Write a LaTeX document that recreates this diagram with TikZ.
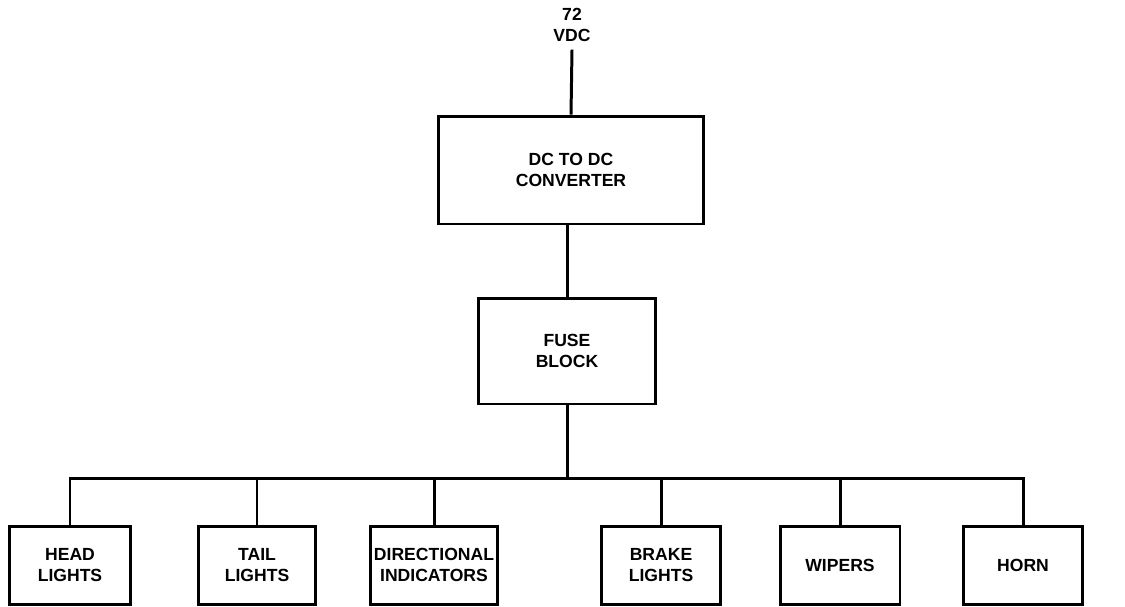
\documentclass[tikz,border=0pt]{standalone}
\usepackage{fontspec}
\setmainfont{Liberation Sans}
\usepackage{tikz}
\usetikzlibrary{positioning}

\begin{document}
\begin{tikzpicture}[
  x=0.02cm, y=-0.02cm,
  bloco/.style={rectangle, draw=black, line width=1.7pt, align=center,
                font=\bfseries\fontsize{10}{11.5}\selectfont, inner sep=1pt},
  carga/.style={bloco, minimum width=2.4cm, minimum height=1.56cm},
  fio/.style={draw=black, line width=1.7pt}
]
  \useasboundingbox (0,0) rectangle (1125,606);

  \node[font=\bfseries\fontsize{10}{11.5}\selectfont, align=center, inner sep=0pt]
    (vdc) at (572,25) {72\\VDC};
  \node[bloco, minimum width=5.32cm, minimum height=2.16cm]
    (conv) at (571,170) {DC TO DC\\CONVERTER};
  \node[bloco, minimum width=3.56cm, minimum height=2.12cm]
    (fuse) at (567,351) {FUSE\\BLOCK};

  \node[carga, minimum width=2.42cm] (head) at (70,565) {HEAD\\LIGHTS};
  \node[carga, minimum width=2.36cm] (tail) at (257,565) {TAIL\\LIGHTS};
  \node[carga, minimum width=2.54cm] (dir) at (434,565) {DIRECTIONAL\\INDICATORS};
  \node[carga, minimum width=2.38cm] (brake) at (661,565) {BRAKE\\LIGHTS};
  \node[carga, minimum width=2.40cm] (wipers) at (840,565) {WIPERS};
  \node[carga, minimum width=2.38cm] (horn) at (1023,565) {HORN};

  \coordinate (barra) at (567,478);

  \draw[fio] ([yshift=-0.16cm]vdc.south) -- (conv.north);
  \draw[fio] (conv.south -| fuse.north) -- (fuse.north);
  \draw[fio] (fuse.south) -- (barra);
  \foreach \c in {head,tail,dir,brake,wipers,horn}
    \draw[fio] (barra) -| (\c.north);
\end{tikzpicture}
\end{document}
